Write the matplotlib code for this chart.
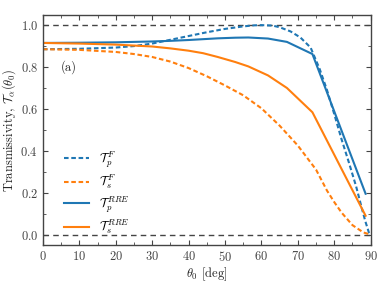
import matplotlib
matplotlib.use("Agg")
import matplotlib.pyplot as plt
from matplotlib.ticker import MultipleLocator

plt.rcParams['font.family'] = 'serif'
plt.rcParams['font.serif'] = ['cmr10', 'DejaVu Serif']
plt.rcParams['mathtext.fontset'] = 'cm'
plt.rcParams['axes.formatter.use_mathtext'] = True
plt.rcParams['axes.unicode_minus'] = False

# Fresnel, p-polarisation
theta_pF = [0, 10, 20, 25, 30, 35, 40, 45, 50, 55, 58, 60, 63, 65, 68, 70.7, 73.5, 76, 78, 80, 82, 84, 86, 87.5, 88.5, 89.5, 90]
T_pF = [0.885, 0.887, 0.893, 0.900, 0.912, 0.930, 0.948, 0.966, 0.982, 0.994, 0.999, 1.000, 0.998, 0.990, 0.970, 0.941, 0.893, 0.790, 0.690, 0.575, 0.455, 0.345, 0.230, 0.130, 0.065, 0.010, 0.0]

# Fresnel, s-polarisation
theta_sF = [0, 10, 20, 25, 30, 35, 40, 45, 50, 55, 60, 65, 70, 75, 78, 80, 82, 85, 88, 90]
T_sF = [0.885, 0.882, 0.872, 0.862, 0.848, 0.826, 0.795, 0.756, 0.712, 0.665, 0.603, 0.520, 0.425, 0.310, 0.210, 0.155, 0.105, 0.045, 0.010, 0.0]

# RRE results
theta_RRE = [0, 10, 20, 30, 35, 40, 44, 48, 52.8, 56.4, 61.8, 67, 74, 88.6]
T_pRRE = [0.915, 0.916, 0.918, 0.922, 0.925, 0.929, 0.933, 0.937, 0.940, 0.941, 0.936, 0.920, 0.862, 0.195]
T_sRRE = [0.915, 0.912, 0.907, 0.898, 0.889, 0.878, 0.866, 0.848, 0.824, 0.803, 0.760, 0.700, 0.584, 0.090]

blue = '#1f77b4'
orange = '#ff7f0e'
grey = '#444444'

fig = plt.figure(figsize=(3.9, 2.82), dpi=100)
ax = fig.add_axes([0.110, 0.131, 0.8405, 0.817])

ax.axhline(1.0, color=grey, ls='--', lw=1.0, dashes=(4, 3))
ax.axhline(0.0, color=grey, ls='--', lw=1.0, dashes=(4, 3))

ax.plot(theta_pF, T_pF, ls='--', dashes=(2.2, 1.3), color=blue, lw=1.5, label=r'$\mathcal{T}_p^{\,F}$')
ax.plot(theta_sF, T_sF, ls='--', dashes=(2.2, 1.3), color=orange, lw=1.5, label=r'$\mathcal{T}_s^{\,F}$')
ax.plot(theta_RRE, T_pRRE, ls='-', color=blue, lw=1.5, label=r'$\mathcal{T}_p^{\,RRE}$')
ax.plot(theta_RRE, T_sRRE, ls='-', color=orange, lw=1.5, label=r'$\mathcal{T}_s^{\,RRE}$')

ax.set_xlim(0, 90)
ax.set_ylim(-0.05, 1.05)
ax.xaxis.set_major_locator(MultipleLocator(10))
ax.xaxis.set_minor_locator(MultipleLocator(5))
ax.yaxis.set_major_locator(MultipleLocator(0.2))
ax.yaxis.set_minor_locator(MultipleLocator(0.1))
ax.tick_params(which='both', direction='in', top=True, right=True, colors=grey, labelsize=9)
ax.tick_params(which='major', length=3.5, width=0.8)
ax.tick_params(which='minor', length=2.5, width=0.6)
for s in ax.spines.values():
    s.set_color(grey)
    s.set_linewidth(1.0)

ax.set_xlabel(r'$\theta_0$ [deg]', fontsize=9, color='#222222', labelpad=1)
ax.set_ylabel(r'Transmissivity, $\mathcal{T}_\alpha(\theta_0)$', fontsize=9, color='#222222', labelpad=2)

ax.text(7, 0.8, '(a)', fontsize=9, ha='center', va='center', color='#222222')

ax.legend(loc='lower left', bbox_to_anchor=(0.03, -0.01), frameon=False, fontsize=9,
          handlelength=2.0, labelspacing=0.25, borderaxespad=0.5, handletextpad=0.8)

fig.savefig('out.png', dpi=100)
